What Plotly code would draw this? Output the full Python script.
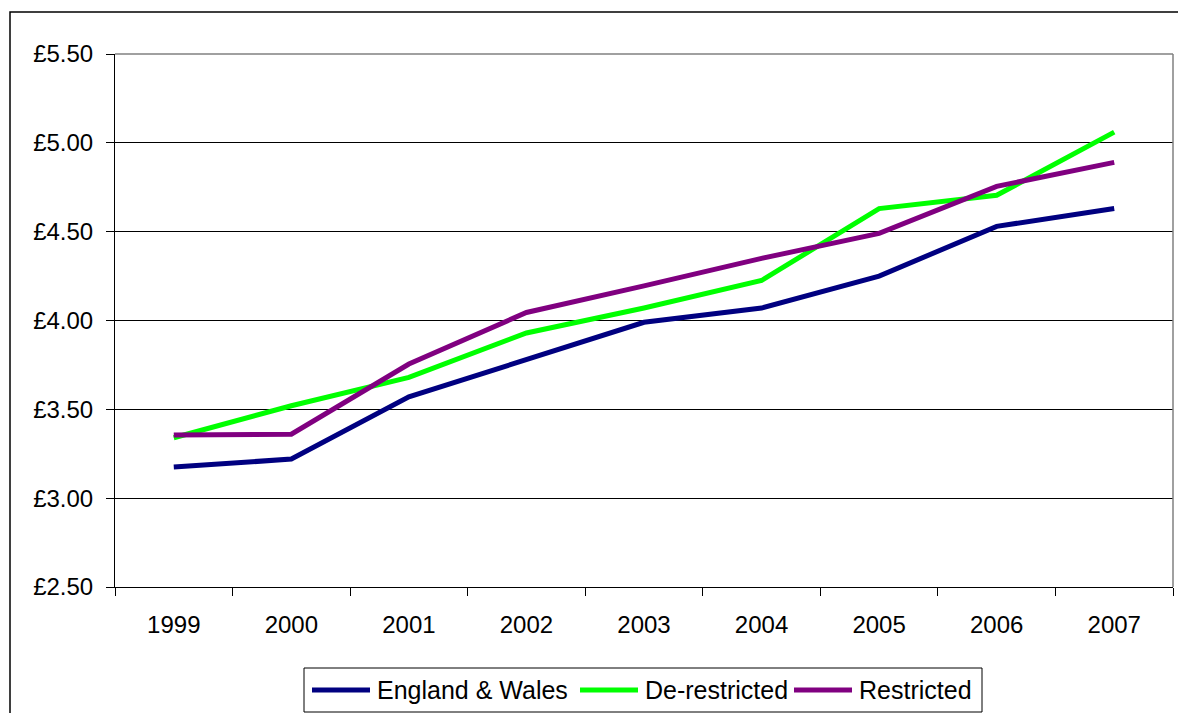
import plotly.graph_objects as go

years = ["1999", "2000", "2001", "2002", "2003", "2004", "2005", "2006", "2007"]
england_wales = [3.175, 3.22, 3.57, 3.78, 3.99, 4.07, 4.25, 4.53, 4.63]
de_restricted = [3.34, 3.52, 3.68, 3.93, 4.07, 4.225, 4.63, 4.705, 5.06]
restricted = [3.355, 3.36, 3.755, 4.045, 4.195, 4.35, 4.49, 4.755, 4.89]

series = [
    ("England & Wales", england_wales, "#000080"),
    ("De-restricted", de_restricted, "#00FF00"),
    ("Restricted", restricted, "#800080"),
]

W, H = 1178, 713
ML, MR, MT, MB = 115, 5, 54, 126
PW, PH = W - ML - MR, H - MT - MB


def px_x(px):
    """Pixel column -> paper x."""
    return (px - ML) / PW


def px_y(py):
    """Pixel row -> paper y."""
    return (H - MB - py) / PH


font_family = "Liberation Sans, Arial, sans-serif"

fig = go.Figure()
for name, vals, color in series:
    fig.add_trace(go.Scatter(
        x=years, y=vals, name=name, mode="lines",
        line=dict(color=color, width=5),
        showlegend=False,
    ))

shapes = [
    # plot-area frame on the top and right
    dict(type="line", xref="paper", yref="paper", x0=0, x1=1, y0=1, y1=1,
         line=dict(color="#808080", width=1.5), layer="above"),
    dict(type="line", xref="paper", yref="paper", x0=1, x1=1, y0=0, y1=1,
         line=dict(color="#808080", width=1.5), layer="above"),
    # outer chart border
    dict(type="rect", xref="paper", yref="paper",
         x0=px_x(10), x1=px_x(1195), y0=px_y(730), y1=px_y(12),
         line=dict(color="black", width=1.5), layer="above"),
    # legend box
    dict(type="rect", xref="paper", yref="paper",
         x0=px_x(304), x1=px_x(982), y0=px_y(712), y1=px_y(668),
         line=dict(color="black", width=1), fillcolor="white", layer="above"),
]

annotations = []
# legend entries: swatch start and text start (pixels)
legend_pos = [(312, 375), (580, 643), (794, 857)]
leg_y = 690
for (name, _, color), (sx, tx) in zip(series, legend_pos):
    shapes.append(dict(
        type="line", xref="paper", yref="paper",
        x0=px_x(sx), x1=px_x(sx + 58), y0=px_y(leg_y), y1=px_y(leg_y),
        line=dict(color=color, width=5), layer="above",
    ))
    annotations.append(dict(
        xref="paper", yref="paper", x=px_x(tx), y=px_y(leg_y),
        xanchor="left", yanchor="middle", text=name, showarrow=False,
        font=dict(size=25, family=font_family, color="black"),
    ))

fig.update_layout(
    width=W, height=H,
    margin=dict(l=ML, r=MR, t=MT, b=MB),
    paper_bgcolor="white", plot_bgcolor="white",
    font=dict(family=font_family, color="black", size=24),
    showlegend=False,
    xaxis=dict(
        type="category", range=[-0.5, 8.5],
        showline=True, linecolor="black", linewidth=1,
        ticks="outside", ticklen=8, tickcolor="black", tickson="boundaries",
        showgrid=False, zeroline=False,
        ticklabelstandoff=16,
        tickfont=dict(size=24),
    ),
    yaxis=dict(
        range=[2.5, 5.5], dtick=0.5, tick0=2.5,
        tickprefix="£", tickformat=".2f",
        showline=True, linecolor="black", linewidth=1,
        ticks="outside", ticklen=8, tickcolor="black",
        showgrid=True, gridcolor="black", gridwidth=1,
        zeroline=False,
        ticklabelstandoff=8,
        tickfont=dict(size=24),
    ),
    shapes=shapes,
    annotations=annotations,
)

fig.write_html("out.html")
